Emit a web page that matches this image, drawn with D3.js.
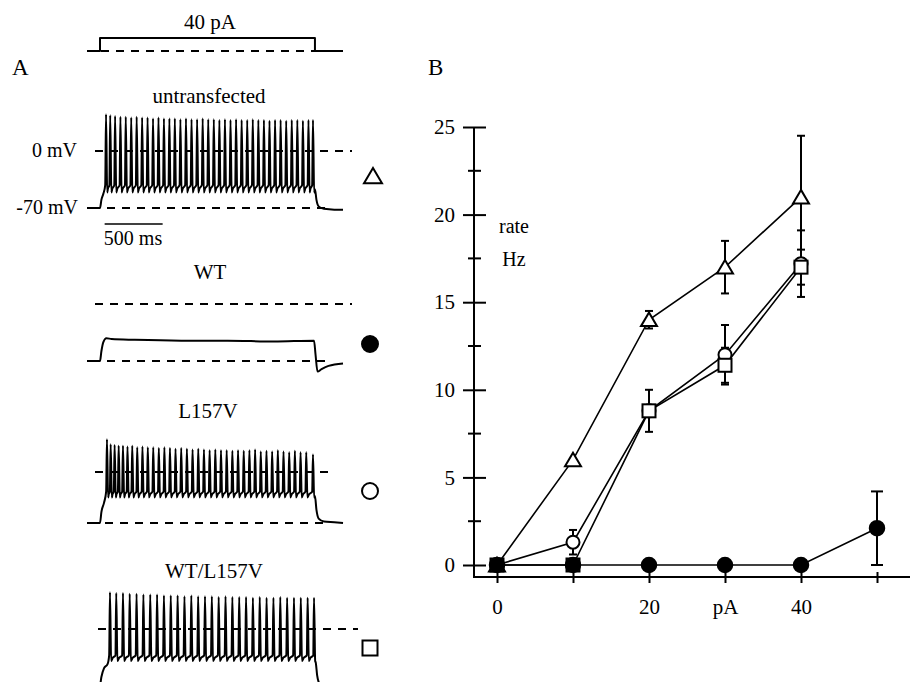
<!DOCTYPE html>
<html>
<head>
<meta charset="utf-8">
<script src="https://cdn.jsdelivr.net/npm/d3@7/dist/d3.min.js"></script>
<style>
  body { margin: 0; background: #fff; }
  svg { display: block; font-family: "Liberation Serif", "Times New Roman", serif; }
  .trace { fill: none; stroke: #000; stroke-width: 2; stroke-linejoin: round; }
  .dash { stroke: #000; stroke-width: 2; stroke-dasharray: 8 7; }
  .series { fill: none; stroke: #000; stroke-width: 1.6; }
  .err { stroke: #000; stroke-width: 2; }
</style>
</head>
<body>
<div id="chart"></div>
<script>
// ---- panel B data (firing rate vs injected current) ----
var currents = [0, 10, 20, 30, 40, 50];
var rateUntransfected = [0, 6, 14, 17, 21];
var errUntransfected = [0, 0, 0.5, 1.5, 3.5];
var rateL157V = [0, 1.3, 8.8, 12, 17.2];
var errL157V = [0, 0.7, 0, 1.7, 1.9];
var rateWTL157V = [0, 0, 8.8, 11.4, 17.0];
var errWTL157V = [0, 0, 1.2, 1.0, 1.0];
var rateWT = [0, 0, 0, 0, 0, 2.1];
var errWT = [0, 0, 0, 0, 0, 2.1];
var rateTicks = [0, 5, 10, 15, 20, 25];
var rateMinor = [2.5, 7.5, 12.5, 17.5, 22.5];
var currentLabels = {0: "0", 20: "20", 30: "pA", 40: "40"};

// ---- panel A data (ms, mV) ----
var stepEnd = 1853;
var stimulus = [[-112, 0], [0, 0], [0, 40], [stepEnd, 40], [stepEnd, 0], [2095, 0]];

var untransSpikes = [[52,45],[88,44],[130,43],[176,42],[222,42],[269,41],[316,42],[363,41],[410,41],[457,40],
  [504,41],[551,40],[598,40],[645,40],[693,39],[741,40],[789,39],[837,39],[885,40],[933,39],[981,39],[1029,38],
  [1077,39],[1125,38],[1173,39],[1221,38],[1269,38],[1317,39],[1365,38],[1413,38],[1461,37],[1509,38],[1557,38],
  [1605,37],[1653,38],[1701,38],[1749,37],[1797,38],[1836,38]];
var untransOnset = [[-112,-70],[0,-70],[12,-60],[30,-52]];
var untransOffset = [[1853,-47],[1866,-60],[1885,-68],[1930,-71],[2020,-72],[2095,-72]];

var wtTrace = [[-112,-70],[0,-70],[12,-58],[28,-47],[55,-42],[100,-43],[300,-44],[700,-45],[1100,-45],
  [1500,-46],[1845,-45],[1858,-62],[1875,-83],[1910,-80],[1970,-76],[2095,-73]];

var l157vSpikes = [[60,45],[92,38],[126,37],[161,36],[198,36],[237,35],[278,36],[321,34],[366,35],[412,34],
  [459,34],[507,33],[555,34],[603,33],[651,32],[700,33],[749,32],[798,31],[847,32],[896,31],[945,30],[994,31],
  [1043,30],[1092,30],[1141,29],[1190,30],[1239,29],[1288,30],[1337,31],[1386,28],[1435,29],[1484,28],
  [1533,30],[1582,28],[1631,27],[1680,29],[1729,27],[1778,27],[1836,24]];
var l157vOnset = [[-112,-70],[0,-70],[12,-55],[35,-42]];
var l157vOffset = [[1853,-33],[1866,-52],[1885,-64],[1930,-68],[2020,-69],[2095,-70]];

var mixSpikes = [[86,46],[140,45],[198,45],[256,44],[315,44],[374,43],[433,43],[492,43],[551,42],[610,42],
  [669,42],[728,41],[787,42],[846,41],[905,41],[964,41],[1023,40],[1082,41],[1141,40],[1200,40],[1259,40],
  [1318,39],[1377,40],[1436,39],[1495,39],[1554,40],[1613,39],[1672,39],[1731,39],[1790,39],[1845,39]];
var mixOnset = [[-112,-70],[0,-70],[12,-60],[35,-49],[65,-44]];
var mixOffset = [[1860,-42],[1872,-58],[1892,-68],[1950,-72],[2095,-73]];

var W = 910, H = 682;
var svg = d3.select("#chart").append("svg").attr("width", W).attr("height", H);
svg.append("rect").attr("width", W).attr("height", H).attr("fill", "#fff");

// time axis shared by all traces: 500 ms = 58 px
var xT = d3.scaleLinear().domain([0, 500]).range([100, 158]);

var buildSpiking = function(onset, spikes, ahp, thr, offset){
  var pts = onset.slice();
  spikes.forEach(function(s, i){
    var next = i < spikes.length - 1 ? spikes[i + 1][0] : stepEnd;
    pts.push([s[0] - 7, thr]);
    pts.push([s[0], s[1]]);
    pts.push([s[0] + 10, ahp]);
    if (next - s[0] > 30) pts.push([s[0] + 10 + (next - s[0] - 17) * 0.35, ahp + (thr - ahp) * 0.55]);
  });
  return pts.concat(offset);
};

var drawTrace = function(pts, y0, y70, curve){
  var yV = d3.scaleLinear().domain([0, -70]).range([y0, y70]);
  var line = d3.line().x(function(d){ return xT(d[0]); }).y(function(d){ return yV(d[1]); }).curve(curve || d3.curveMonotoneX);
  svg.append("path").attr("class", "trace").attr("d", line(pts));
};

var dashLine = function(x1, x2, y){
  svg.append("line").attr("class", "dash").attr("x1", x1).attr("x2", x2).attr("y1", y).attr("y2", y);
};

var label = function(txt, x, y, size, anchor){
  return svg.append("text").attr("x", x).attr("y", y).attr("font-size", size)
    .attr("text-anchor", anchor || "middle").text(txt);
};

var marker = function(g, kind, x, y, s){
  if (kind === "tri") {
    g.append("path").attr("d", "M" + x + "," + (y - s * 0.45) + "L" + (x + s / 2) + "," + (y + s * 0.4) + "L" + (x - s / 2) + "," + (y + s * 0.4) + "Z")
      .attr("fill", "#fff").attr("stroke", "#000").attr("stroke-width", 2);
  } else if (kind === "sq") {
    g.append("rect").attr("x", x - s / 2).attr("y", y - s / 2).attr("width", s).attr("height", s)
      .attr("fill", "#fff").attr("stroke", "#000").attr("stroke-width", 2);
  } else {
    g.append("circle").attr("cx", x).attr("cy", y).attr("r", s / 2)
      .attr("fill", kind === "dot" ? "#000" : "#fff").attr("stroke", "#000").attr("stroke-width", 2);
  }
};

// ---- panel A ----
label("A", 12, 75, 23, "start");
label("40 pA", 210, 29, 21);
var yStim = d3.scaleLinear().domain([0, 40]).range([51, 38]);
svg.append("path").attr("class", "trace")
  .attr("d", d3.line().x(function(d){ return xT(d[0]); }).y(function(d){ return yStim(d[1]); })(stimulus));
dashLine(101, 315, 51);

label("untransfected", 209, 103, 21);
dashLine(95, 352, 151);
dashLine(107, 330, 208);
drawTrace(buildSpiking(untransOnset, untransSpikes, -51, -42, untransOffset), 151, 208);
label("0 mV", 77, 157, 20, "end");
label("-70 mV", 78, 214, 20, "end");
svg.append("line").attr("x1", xT(40)).attr("x2", xT(540)).attr("y1", 224).attr("y2", 224)
  .attr("stroke", "#000").attr("stroke-width", 1.6);
label("500 ms", 133, 245, 20);
marker(svg, "tri", 373, 176, 18);

label("WT", 210, 279, 21);
dashLine(95, 352, 304);
dashLine(107, 330, 361);
drawTrace(wtTrace, 304, 361);
marker(svg, "dot", 370, 344, 16);

label("L157V", 208, 418, 21);
dashLine(95, 335, 472);
dashLine(105, 328, 523);
drawTrace(buildSpiking(l157vOnset, l157vSpikes, -35, -27, l157vOffset), 472, 523);
marker(svg, "ring", 370, 491, 16);

label("WT/L157V", 214, 578, 21);
dashLine(98, 358, 629);
drawTrace(buildSpiking(mixOnset, mixSpikes, -40, -33, mixOffset), 629, 685);
marker(svg, "sq", 370, 648, 15);

// ---- panel B ----
label("B", 428, 75, 23, "start");
var x = d3.scaleLinear().domain([0, 50]).range([497, 877]);
var y = d3.scaleLinear().domain([0, 25]).range([565, 127]);
var axisY = 577, axisX = 474;

var gy = svg.append("g").attr("transform", "translate(" + axisX + ",0)")
  .call(d3.axisLeft(y).tickValues(rateTicks).tickSize(0).tickPadding(19));
gy.select(".domain").remove();
gy.selectAll(".tick line").attr("x1", -11).attr("x2", 12).attr("stroke-width", 2);
gy.selectAll(".tick text").attr("font-size", 21).attr("font-family", "Liberation Serif");
gy.selectAll(".minor").data(rateMinor).enter().append("line")
  .attr("x1", -6).attr("x2", 7).attr("y1", function(d){ return y(d); }).attr("y2", function(d){ return y(d); })
  .attr("stroke", "#000").attr("stroke-width", 2);
svg.append("line").attr("x1", axisX).attr("x2", axisX).attr("y1", y(25)).attr("y2", axisY + 1)
  .attr("stroke", "#000").attr("stroke-width", 2);

var gx = svg.append("g").attr("transform", "translate(0," + axisY + ")")
  .call(d3.axisBottom(x).tickValues(currents).tickSize(6).tickPadding(16)
    .tickFormat(function(d){ return currentLabels[d] || ""; }));
gx.select(".domain").remove();
gx.selectAll(".tick line").attr("y1", -5).attr("stroke-width", 2);
gx.selectAll(".tick text").attr("font-size", 21).attr("font-family", "Liberation Serif");
svg.append("line").attr("x1", axisX - 1).attr("x2", W).attr("y1", axisY).attr("y2", axisY)
  .attr("stroke", "#000").attr("stroke-width", 2);

label("rate", 514, 233, 20);
label("Hz", 514, 266, 20);

var plot = svg.append("g");
var series = [
  {vals: rateUntransfected, err: errUntransfected, kind: "tri", size: 16, cap: 8},
  {vals: rateL157V, err: errL157V, kind: "ring", size: 13, cap: 8},
  {vals: rateWTL157V, err: errWTL157V, kind: "sq", size: 13, cap: 8},
  {vals: rateWT, err: errWT, kind: "dot", size: 14.5, cap: 12}
];
var pline = d3.line().x(function(d, i){ return x(currents[i]); }).y(function(d){ return y(d); });

series.forEach(function(s){
  plot.append("path").attr("class", "series").attr("d", pline(s.vals));
});
series.forEach(function(s){
  s.vals.forEach(function(v, i){
    if (!s.err[i]) return;
    var cx = x(currents[i]), lo = y(v - s.err[i]), hi = y(v + s.err[i]);
    plot.append("line").attr("class", "err").attr("x1", cx).attr("x2", cx).attr("y1", lo).attr("y2", hi)
      .attr("stroke-width", s.kind === "dot" ? 2.6 : 2);
    [lo, hi].forEach(function(yy){
      plot.append("line").attr("class", "err").attr("x1", cx - s.cap / 2).attr("x2", cx + s.cap / 2)
        .attr("y1", yy).attr("y2", yy);
    });
  });
});
series.forEach(function(s){
  s.vals.forEach(function(v, i){
    marker(plot, s.kind, x(currents[i]), y(v), s.size);
  });
});
</script>
</body>
</html>
